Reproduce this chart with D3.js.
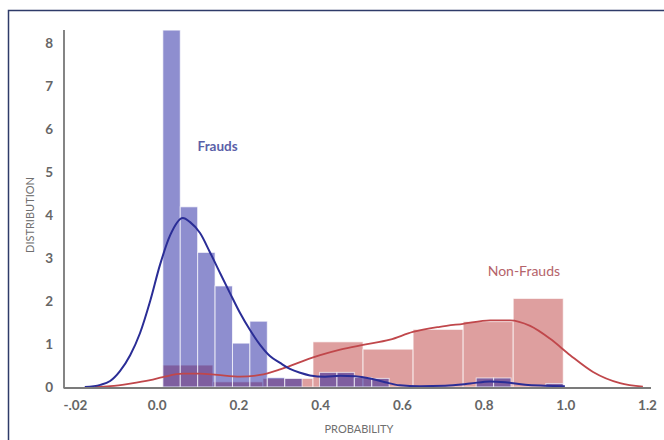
<!DOCTYPE html>
<html>
<head>
<meta charset="utf-8">
<script src="https://cdn.jsdelivr.net/npm/d3@7"></script>
<style>
  html, body { margin: 0; padding: 0; background: #fff; }
  svg { display: block; }
</style>
</head>
<body>
<svg id="chart" width="664" height="440"></svg>
<script>
// ---------- data ----------
const xTickValues = [-0.2, 0.0, 0.2, 0.4, 0.6, 0.8, 1.0, 1.2];
const xTickLabels = ["-.02", "0.0", "0.2", "0.4", "0.6", "0.8", "1.0", "1.2"];
const yTickValues = [0, 1, 2, 3, 4, 5, 6, 7, 8];

// histogram range shared by both groups
const binRange = [0.015, 0.995];

// Frauds histogram (23 bins)
const fraudHist = [8.3, 4.19, 3.13, 2.35, 1.02, 1.53, 0.22, 0.2, 0, 0.34, 0.34, 0.22, 0.2,
                   0, 0, 0, 0, 0, 0.21, 0.21, 0, 0, 0.08];
// Non-Frauds histogram (8 bins)
const nonFraudHist = [0.51, 0.12, 0.2, 1.05, 0.88, 1.34, 1.52, 2.06];

// KDE curves: [probability, density]
const fraudKdeX = [-0.176, -0.138, -0.114, -0.090, -0.065, -0.041, -0.016, 0.008, 0.033, 0.064, 0.081,
                   0.106, 0.130, 0.155, 0.179, 0.204, 0.228, 0.253, 0.277, 0.302, 0.326, 0.351, 0.375,
                   0.412, 0.449, 0.485, 0.522, 0.559, 0.595, 0.644, 0.706, 0.767, 0.816, 0.853, 0.902,
                   0.950, 0.999];
const fraudKdeY = [0, 0.05, 0.14, 0.37, 0.74, 1.25, 2.0, 2.84, 3.53, 3.93, 3.84,
                   3.58, 3.14, 2.65, 2.19, 1.72, 1.33, 0.98, 0.72, 0.56, 0.42, 0.33, 0.27,
                   0.24, 0.26, 0.25, 0.2, 0.11, 0.04, 0.02, 0.03, 0.08, 0.13, 0.11, 0.05,
                   0.03, 0.02];
const nonFraudKdeX = [-0.151, -0.114, -0.065, -0.016, 0.015, 0.064, 0.106, 0.148, 0.204, 0.253, 0.302,
                      0.351, 0.400, 0.449, 0.505, 0.571, 0.627, 0.693, 0.750, 0.816, 0.865, 0.914,
                      0.963, 1.012, 1.068, 1.134, 1.190];
const nonFraudKdeY = [0, 0.02, 0.08, 0.16, 0.23, 0.31, 0.31, 0.28, 0.24, 0.28, 0.41,
                      0.58, 0.74, 0.87, 0.98, 1.10, 1.28, 1.40, 1.47, 1.55, 1.55, 1.42,
                      1.12, 0.74, 0.35, 0.09, 0.01];

const labels = { fraud: "Frauds", nonFraud: "Non-Frauds", x: "PROBABILITY", y: "DISTRIBUTION" };

// ---------- drawing ----------
const svg = d3.select("#chart");
const x = d3.scaleLinear().domain([-0.2, 1.2]).range([75, 647]);
const y = d3.scaleLinear().domain([0, 8]).range([387, 43]);
const font = "Lato, 'Open Sans', sans-serif";

// outer frame
svg.append("path")
  .attr("d", "M8.5,440 L8.5,10.5 L664,10.5")
  .attr("fill", "none").attr("stroke", "#2e3b69").attr("stroke-width", 1.5);

function bins(values) {
  const n = values.length;
  const step = (binRange[1] - binRange[0]) / n;
  return values.map((v, i) => ({ x0: binRange[0] + i * step, x1: binRange[0] + (i + 1) * step, v }))
               .filter(d => d.v > 0);
}

const nonFraudColor = "rgb(190,64,64)";
const fraudColor = "rgb(30,30,160)";

svg.append("g").selectAll("rect").data(bins(nonFraudHist)).join("rect")
  .attr("x", d => x(d.x0)).attr("width", d => x(d.x1) - x(d.x0))
  .attr("y", d => y(d.v)).attr("height", d => y(0) - y(d.v))
  .attr("fill", nonFraudColor).attr("fill-opacity", 0.5)
  .attr("stroke", "#fff").attr("stroke-width", 1).attr("stroke-opacity", 0.7);

svg.append("g").selectAll("rect").data(bins(fraudHist)).join("rect")
  .attr("x", d => x(d.x0)).attr("width", d => x(d.x1) - x(d.x0))
  .attr("y", d => y(d.v)).attr("height", d => y(0) - y(d.v))
  .attr("fill", fraudColor).attr("fill-opacity", 0.5)
  .attr("stroke", "#fff").attr("stroke-width", 1).attr("stroke-opacity", 0.7);

// axes
const yAxis = svg.append("g").attr("transform", "translate(53,0)")
  .call(d3.axisLeft(y).tickValues(yTickValues).tickSize(0).tickPadding(0).tickFormat(d3.format("d")));
yAxis.select(".domain").remove();
yAxis.selectAll("text").attr("font-family", font)
  .attr("font-size", 13.5).attr("font-weight", 700).attr("fill", "#666").attr("dy", "0.35em");

const xAxis = svg.append("g").attr("transform", "translate(0,400)")
  .call(d3.axisBottom(x).tickValues(xTickValues).tickSize(0).tickPadding(0)
    .tickFormat((d, i) => xTickLabels[i]));
xAxis.select(".domain").remove();
xAxis.selectAll("text").attr("font-family", font)
  .attr("font-size", 13.5).attr("font-weight", 700).attr("fill", "#666");

// y axis line
svg.append("line").attr("x1", 64).attr("x2", 64).attr("y1", y(8.3)).attr("y2", 388.5)
  .attr("stroke", "#333").attr("stroke-width", 1.2);

// KDE lines
const line = d3.line().x(d => x(d[0])).y(d => y(d[1])).curve(d3.curveMonotoneX);
svg.append("path").datum(nonFraudKdeX.map((v, i) => [v, nonFraudKdeY[i]]))
  .attr("d", line).attr("fill", "none").attr("stroke", "#c0474b").attr("stroke-width", 1.8);
svg.append("path").datum(fraudKdeX.map((v, i) => [v, fraudKdeY[i]]))
  .attr("d", line).attr("fill", "none").attr("stroke", "#2a2d96").attr("stroke-width", 2);

// x axis line
svg.append("line").attr("x1", 64).attr("x2", 651).attr("y1", 388).attr("y2", 388)
  .attr("stroke", "#7b7b7b").attr("stroke-width", 2);

// axis titles
svg.append("text").attr("x", x(0.495)).attr("y", 433).attr("text-anchor", "middle")
  .attr("font-family", font).attr("font-size", 11)
  .attr("fill", "#6f6f6f").text(labels.x);
svg.append("text").attr("transform", `translate(34,${y(4.0)}) rotate(-90)`).attr("text-anchor", "middle")
  .attr("font-family", font).attr("font-size", 11)
  .attr("fill", "#6f6f6f").text(labels.y);

// series labels
svg.append("text").attr("x", x(0.1)).attr("y", y(5.6)).attr("dy", "0.35em")
  .attr("font-family", font).attr("font-size", 13.5).attr("font-weight", 700)
  .attr("fill", "#5b5fa8").text(labels.fraud);
svg.append("text").attr("x", x(0.81)).attr("y", y(2.7)).attr("dy", "0.35em")
  .attr("font-family", font).attr("font-size", 14)
  .attr("fill", "#b5636a").text(labels.nonFraud);
</script>
</body>
</html>
